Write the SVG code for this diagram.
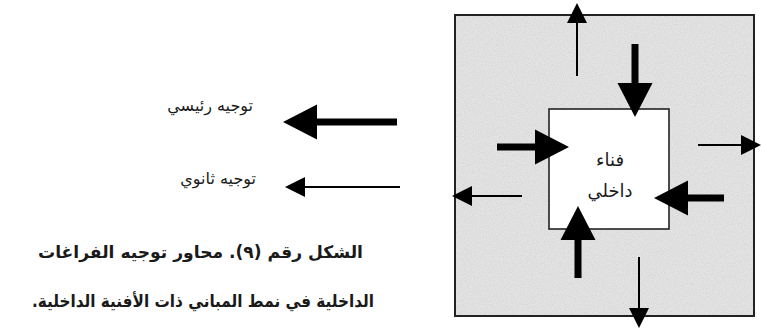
<svg xmlns="http://www.w3.org/2000/svg" width="762" height="330" viewBox="0 0 762 330">
  <style>
    .ar { font-family: "DejaVu Sans", "Noto Sans", sans-serif; fill: #1a1a1a; }
    .box { stroke: #222; }
    .thick { stroke: #000; stroke-width: 7; fill: none; marker-end: url(#headBig); }
    .thin { stroke: #000; stroke-width: 2; fill: none; marker-end: url(#headSmall); }
  </style>
  <defs>
    <marker id="headBig" markerUnits="userSpaceOnUse" markerWidth="36" markerHeight="36" refX="0" refY="17.5" orient="auto" overflow="visible">
      <path d="M0,0 L34,17.5 L0,35 Z" fill="#000"/>
    </marker>
    <marker id="headSmall" markerUnits="userSpaceOnUse" markerWidth="22" markerHeight="22" refX="0" refY="10" orient="auto" overflow="visible">
      <path d="M0,0 L20,10 L0,20 Z" fill="#000"/>
    </marker>
    <filter id="grain" x="0" y="0" width="100%" height="100%">
      <feTurbulence type="fractalNoise" baseFrequency="0.9" numOctaves="2" seed="3" result="n"/>
      <feColorMatrix in="n" type="matrix" values="0 0 0 0 0.55  0 0 0 0 0.55  0 0 0 0 0.55  0 0 0 -1.6 1.05"/>
    </filter>
  </defs>

  <!-- courtyard building plan -->
  <g id="building">
    <rect x="455" y="15" width="299" height="301" fill="#e4e4e4"/>
    <rect x="455" y="15" width="299" height="301" filter="url(#grain)" opacity="0.55"/>
    <rect class="box" x="455" y="15" width="299" height="301" fill="none" stroke-width="2"/>
  </g>

  <g id="courtyard">
    <rect class="box" x="549" y="109" width="120" height="120" fill="#fff" stroke-width="1.6"/>
    <text class="ar" x="610" y="166" font-size="18" text-anchor="middle" direction="rtl">فناء</text>
    <text class="ar" x="610" y="197" font-size="18" text-anchor="middle" direction="rtl">داخلي</text>
  </g>

  <!-- orientation arrows -->
  <g id="connectors">
    <!-- main orientation: into the courtyard -->
    <line class="thick" x1="635" y1="44" x2="635" y2="83"/>
    <line class="thick" x1="497" y1="147" x2="535" y2="147"/>
    <line class="thick" x1="724" y1="198" x2="688" y2="198"/>
    <line class="thick" x1="578" y1="278" x2="578" y2="240"/>
    <!-- secondary orientation: out of the building -->
    <line class="thin" x1="577" y1="76" x2="577" y2="23"/>
    <line class="thin" x1="698" y1="145" x2="741" y2="145"/>
    <line class="thin" x1="522" y1="196" x2="472" y2="196"/>
    <line class="thin" x1="639" y1="257" x2="639" y2="308"/>
  </g>

  <!-- legend -->
  <g id="legend-main">
    <line class="thick" x1="397" y1="122" x2="317" y2="122"/>
    <text class="ar" x="253" y="111" font-size="16" text-anchor="start" direction="rtl">توجيه رئيسي</text>
  </g>
  <g id="legend-secondary">
    <line class="thin" x1="400" y1="187" x2="305" y2="187"/>
    <text class="ar" x="256" y="184" font-size="16" text-anchor="start" direction="rtl">توجيه ثانوي</text>
  </g>

  <!-- caption -->
  <g id="caption">
    <text class="ar" x="363" y="258" font-size="17" font-weight="bold" text-anchor="start" direction="rtl" textLength="325" lengthAdjust="spacingAndGlyphs">الشكل رقم (٩). محاور توجيه الفراغات</text>
    <text class="ar" x="374" y="307" font-size="17" font-weight="bold" text-anchor="start" direction="rtl" textLength="342" lengthAdjust="spacingAndGlyphs">الداخلية في نمط المباني ذات الأفنية الداخلية.</text>
  </g>
</svg>
